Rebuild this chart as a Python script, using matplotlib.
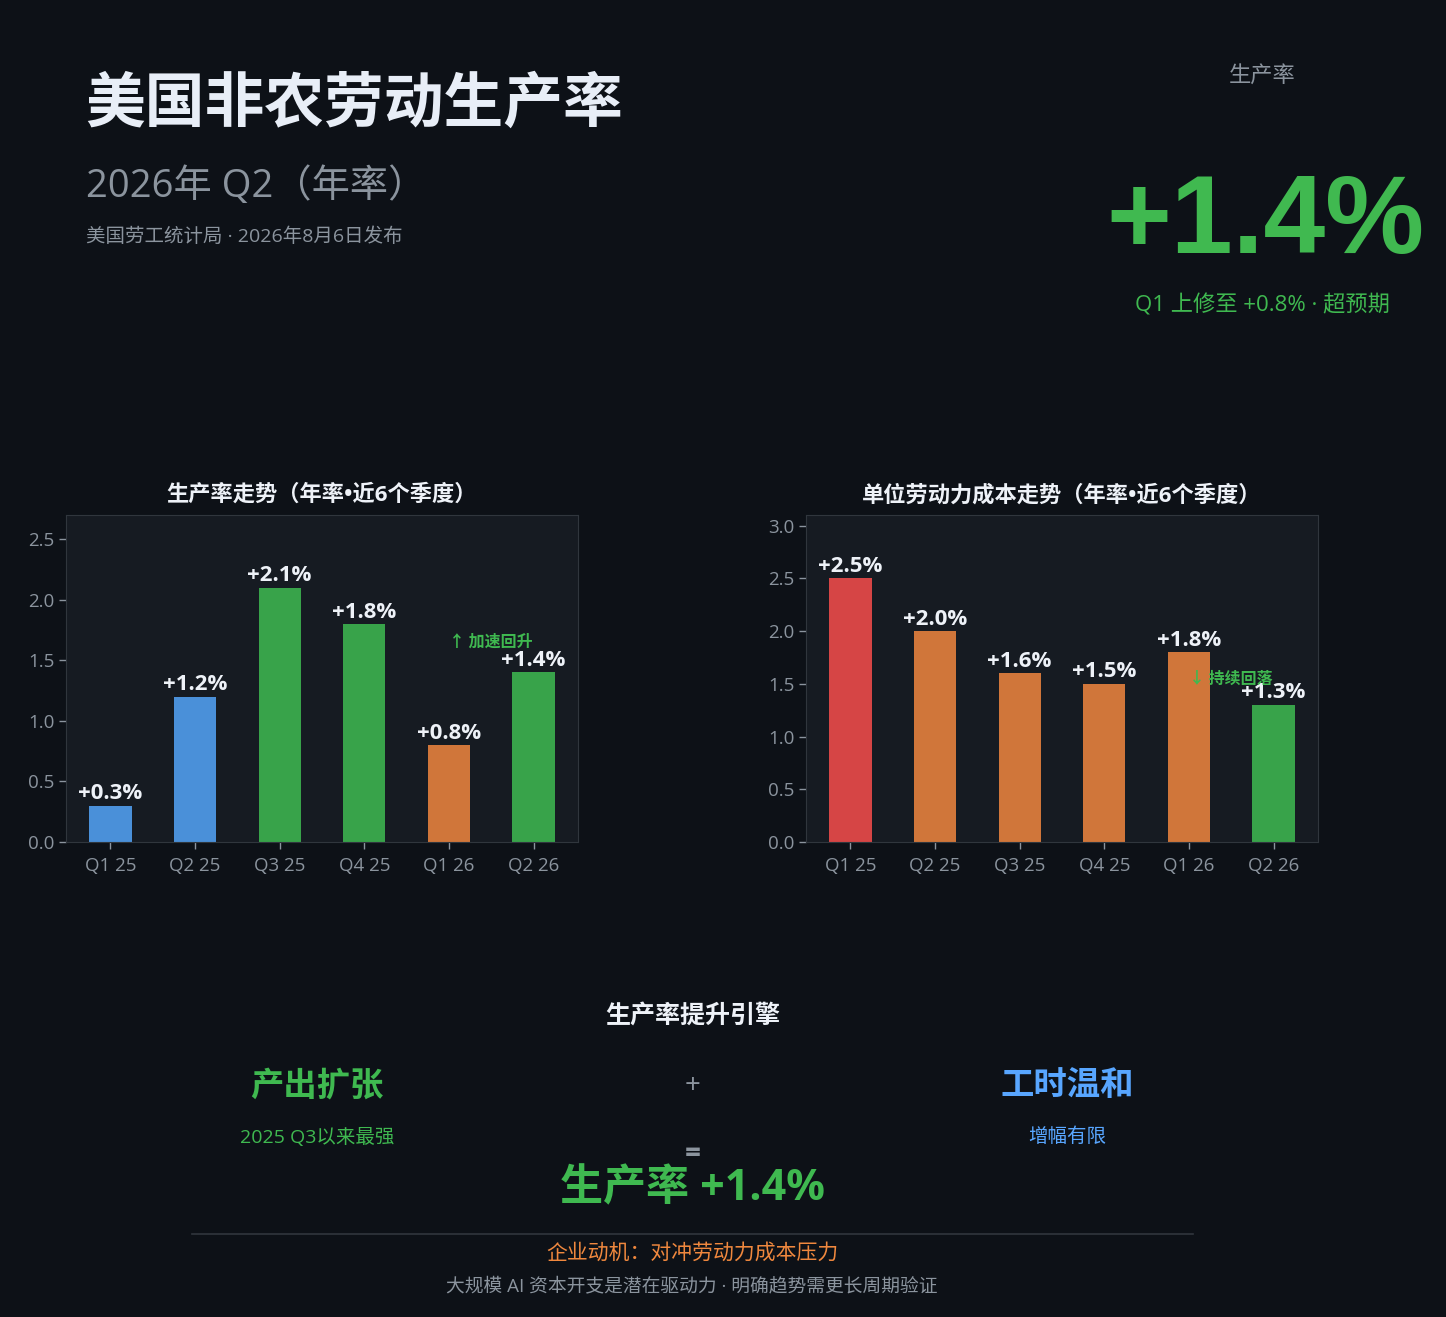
import matplotlib
matplotlib.use("Agg")
import matplotlib.pyplot as plt

plt.rcParams['font.family'] = ['Open Sans', 'Noto Sans CJK SC', 'DejaVu Sans']

W, H = 1446, 1317
BG = '#0d1117'
PANEL = '#161b22'
GRID = '#30363d'
MUTED = '#8b949e'
WHITE = '#eef2f8'
GREEN = '#3fb950'
BLUE = '#58a6ff'
ORANGE = '#f0883e'
CJK = ['Noto Sans CJK SC', 'DejaVu Sans']

quarters = ['Q1 25', 'Q2 25', 'Q3 25', 'Q4 25', 'Q1 26', 'Q2 26']
productivity = [0.3, 1.2, 2.1, 1.8, 0.8, 1.4]
prod_colors = ['#4a90d9', '#4a90d9', '#38a34a', '#38a34a', '#d0763a', '#38a34a']
ulc = [2.5, 2.0, 1.6, 1.5, 1.8, 1.3]
ulc_colors = ['#d64545', '#d0763a', '#d0763a', '#d0763a', '#d0763a', '#38a34a']

fig = plt.figure(figsize=(W / 100, H / 100), dpi=100, facecolor=BG)


def fx(x):
    return x / W


def fy(y):
    return 1 - y / H


def ftext(x, y, s, **kw):
    kw.setdefault('ha', 'center')
    kw.setdefault('va', 'center')
    fig.text(fx(x), fy(y), s, **kw)


# Header
ftext(85, 105, '美国非农劳动生产率', ha='left', fontsize=43, fontweight='bold', color='#e8eef7',
      family=CJK)
ftext(86, 187, '2026年 Q2（年率）', ha='left', fontsize=27.5, color=MUTED)
ftext(86, 237, '美国劳工统计局 · 2026年8月6日发布', ha='left', fontsize=14, color=MUTED)

ftext(1262, 75, '生产率', fontsize=16, color=MUTED, family=CJK)
ftext(1265, 224, '+1.4%', fontsize=80, fontweight='bold', color='#40b950',
      family=['Liberation Sans', 'DejaVu Sans'])
ftext(1262, 305, 'Q1 上修至 +0.8% · 超预期', fontsize=16, color=GREEN)


def bar_panel(rect, values, colors, ylim, yticks, title, note):
    ax = fig.add_axes(rect)
    ax.set_facecolor(PANEL)
    x = list(range(len(quarters)))
    ax.bar(x, values, width=0.5, color=colors, zorder=2)
    ax.set_ylim(0, ylim)
    ax.set_yticks(yticks)
    ax.set_yticklabels([f'{t:.1f}' for t in yticks])
    ax.set_xticks(x)
    ax.set_xticklabels(quarters)
    for s in ax.spines.values():
        s.set_color(GRID)
    ax.tick_params(colors=MUTED, labelsize=13.5, length=5, width=1)
    ax.tick_params(axis='x', pad=6)
    for xi, v in zip(x, values):
        ax.annotate(f'+{v:.1f}%', (xi, v), xytext=(0, 1), textcoords='offset points',
                    ha='center', va='bottom', fontsize=16, fontweight='bold', color=WHITE)
    ax.text(4.5, values[-1] + 0.25, note, ha='center', va='center', fontsize=11.5,
            fontweight='bold', color=GREEN, family=CJK)
    ax.set_title(title, color=WHITE, fontsize=16, fontweight='bold', pad=10)
    return ax


ax_w = 512 / W
ax_h = 327 / H
ax_b = 1 - 842 / H
bar_panel([66 / W, ax_b, ax_w, ax_h], productivity, prod_colors, 2.7,
          [0.0, 0.5, 1.0, 1.5, 2.0, 2.5], '生产率走势（年率•近6个季度）', '↑ 加速回升')
bar_panel([806 / W, ax_b, ax_w, ax_h], ulc, ulc_colors, 3.1,
          [0.0, 0.5, 1.0, 1.5, 2.0, 2.5, 3.0], '单位劳动力成本走势（年率•近6个季度）', '↓ 持续回落')

# Bottom section
ftext(693, 1016, '生产率提升引擎', fontsize=18, fontweight='bold', color=WHITE, family=CJK)
ftext(317, 1086, '产出扩张', fontsize=24, fontweight='bold', color=GREEN, family=CJK)
ftext(317, 1137, '2025 Q3以来最强', fontsize=14, color=GREEN)
ftext(693, 1086, '+', fontsize=20, color=MUTED)
ftext(1067, 1086, '工时温和', fontsize=24, fontweight='bold', color=BLUE, family=CJK)
ftext(1067, 1136, '增幅有限', fontsize=14, color=BLUE, family=CJK)
ftext(693, 1155, '=', fontsize=20, fontweight='bold', color=MUTED)
ftext(692, 1189, '生产率 +1.4%', fontsize=31, fontweight='bold', color=GREEN)

fig.add_artist(plt.Line2D([fx(192), fx(1193)], [fy(1234), fy(1234)], color=GRID, lw=1.2))
ftext(692, 1253, '企业动机：对冲劳动力成本压力', fontsize=15, color=ORANGE, family=CJK)
ftext(692, 1286, '大规模 AI 资本开支是潜在驱动力 · 明确趋势需更长周期验证', fontsize=13.5, color=MUTED)

fig.savefig('out.png', dpi=100, facecolor=BG)
